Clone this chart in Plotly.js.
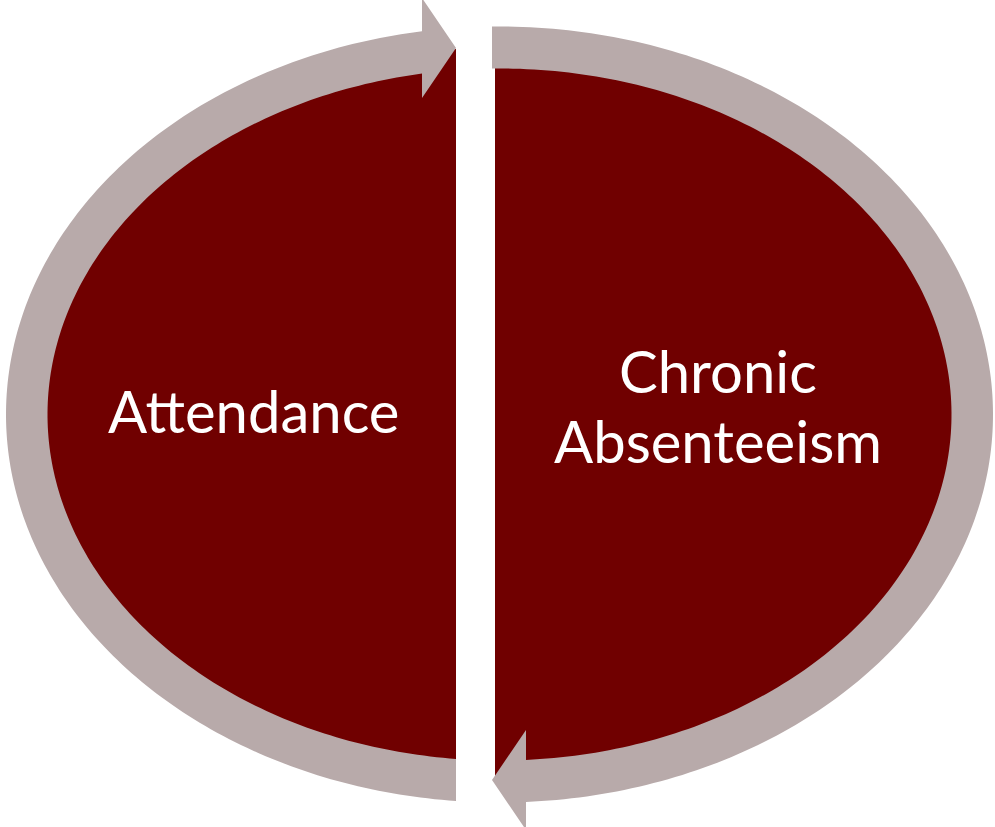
<!DOCTYPE html>
<html>
<head>
<meta charset="utf-8">
<script src="https://cdn.plot.ly/plotly-3.0.1.min.js"></script>
<style>html,body{margin:0;padding:0;background:#fff;}#chart{width:995px;height:827px;}</style>
</head>
<body>
<div id="chart"></div>
<script>
// Diagram content
var segmentNames = ["Attendance", "Chronic Absenteeism"];
var labelLinesLeft = ["Attendance"];
var labelLinesRight = ["Chronic", "Absenteeism"];

var W = 995, H = 827;
var cx = 499.5, cy = 414.5;
var outer = {rx: 493.5, ry: 388};
var inner = {rx: 452, ry: 346};
var fillE = {rx: 474, ry: 367};
var RED = "#700000", RING = "#b8aaaa";

function pt(e, t) { return [cx + e.rx * Math.cos(t), cy + e.ry * Math.sin(t)]; }
function arc(e, t0, t1, n) {
  var pts = [];
  for (var i = 0; i <= n; i++) { pts.push(pt(e, t0 + (t1 - t0) * i / n)); }
  return pts;
}
function angAt(e, x) { return Math.acos((x - cx) / e.rx); }
function toPath(pts) {
  return "M" + pts.map(function (p) { return p[0].toFixed(2) + "," + p[1].toFixed(2); }).join(" L") + " Z";
}

// Left red half
var lx = 456, rxCut = 495;
var a0 = angAt(fillE, lx);
var leftRed = arc(fillE, a0, 2 * Math.PI - a0, 200);
// Right red half
var b0 = angAt(fillE, rxCut);
var rightRed = arc(fillE, -b0, b0, 200);

// Left ring: bottom cut x=456, up to arrow base x=422
var arrowTopBase = 422, arrowTopTip = [456, 48], arrowHalf = 50;
var lo0 = angAt(outer, lx), lo1 = 2 * Math.PI - angAt(outer, arrowTopBase);
var li0 = angAt(inner, lx), li1 = 2 * Math.PI - angAt(inner, arrowTopBase);
var leftRing = arc(outer, lo0, lo1, 200);
leftRing.push([arrowTopBase, arrowTopTip[1] - arrowHalf]);
leftRing.push(arrowTopTip);
leftRing.push([arrowTopBase, arrowTopTip[1] + arrowHalf]);
leftRing = leftRing.concat(arc(inner, li1, li0, 200));

// Right ring: top cut x=492, down to arrow base x=526
var rTopCut = 492, arrowBotBase = 526, arrowBotTip = [492, 780];
var ro0 = -angAt(outer, rTopCut), ro1 = angAt(outer, arrowBotBase);
var ri0 = -angAt(inner, rTopCut), ri1 = angAt(inner, arrowBotBase);
var rightRing = arc(outer, ro0, ro1, 200);
rightRing.push([arrowBotBase, arrowBotTip[1] + arrowHalf]);
rightRing.push(arrowBotTip);
rightRing.push([arrowBotBase, arrowBotTip[1] - arrowHalf]);
rightRing = rightRing.concat(arc(inner, ri1, ri0, 200));

var shapes = [
  {type: "path", xref: "x", yref: "y", path: toPath(leftRed), fillcolor: RED, line: {width: 0}, layer: "above"},
  {type: "path", xref: "x", yref: "y", path: toPath(rightRed), fillcolor: RED, line: {width: 0}, layer: "above"},
  {type: "path", xref: "x", yref: "y", path: toPath(leftRing), fillcolor: RING, line: {width: 0}, layer: "above"},
  {type: "path", xref: "x", yref: "y", path: toPath(rightRing), fillcolor: RING, line: {width: 0}, layer: "above"}
];

var FONT = {family: "Lato, 'Open Sans', sans-serif", size: 58, color: "#ffffff"};
var annotations = [];
labelLinesLeft.forEach(function (t, i) {
  annotations.push({x: 253, y: 410, xref: "x", yref: "y", text: t, showarrow: false,
    xanchor: "center", yanchor: "middle", font: FONT});
});
labelLinesRight.forEach(function (t, i) {
  annotations.push({x: 718, y: 370 + i * 70, xref: "x", yref: "y", text: t, showarrow: false,
    xanchor: "center", yanchor: "middle", font: FONT});
});

var layout = {
  width: W, height: H,
  margin: {l: 0, r: 0, t: 0, b: 0},
  paper_bgcolor: "#ffffff", plot_bgcolor: "#ffffff",
  xaxis: {range: [0, W], visible: false, fixedrange: true},
  yaxis: {range: [H, 0], visible: false, fixedrange: true},
  shapes: shapes,
  annotations: annotations,
  showlegend: false
};

Plotly.newPlot("chart", [{x: [], y: [], type: "scatter", hoverinfo: "skip", name: segmentNames[0]}], layout, {staticPlot: true, displayModeBar: false});
</script>
</body>
</html>
